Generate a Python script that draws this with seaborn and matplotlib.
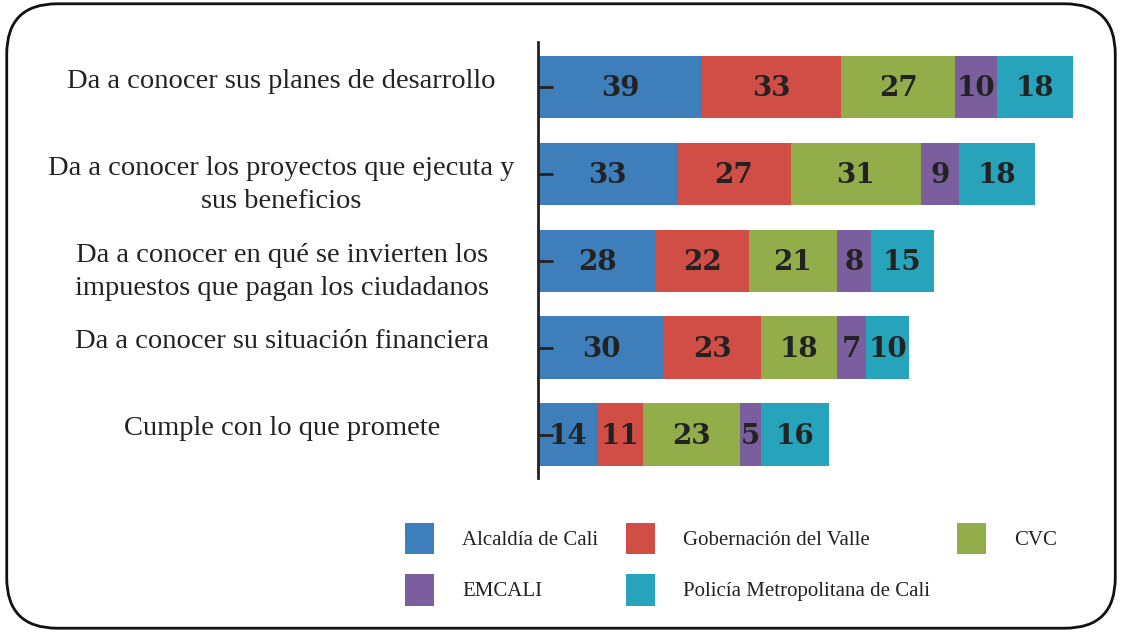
import matplotlib
matplotlib.use("Agg")
import matplotlib.pyplot as plt
import numpy as np
import pandas as pd
import seaborn as sns
from matplotlib.patches import FancyBboxPatch, Patch

categories = [
    "Da a conocer sus planes de desarrollo",
    "Da a conocer los proyectos que ejecuta y\nsus beneficios",
    "Da a conocer en qué se invierten los\nimpuestos que pagan los ciudadanos",
    "Da a conocer su situación financiera",
    "Cumple con lo que promete",
]
series_names = ["Alcaldía de Cali", "Gobernación del Valle", "CVC", "EMCALI",
                "Policía Metropolitana de Cali"]
alcaldia = [39, 33, 28, 30, 14]
gobernacion = [33, 27, 22, 23, 11]
cvc = [27, 31, 21, 18, 23]
emcali = [10, 9, 8, 7, 5]
policia = [18, 18, 15, 10, 16]
colors = ["#3d7ebb", "#d14e47", "#92ad4a", "#7b5e9e", "#27a4bc"]

sns.set_theme(style="white")
plt.rcParams["font.family"] = ["Liberation Serif", "DejaVu Serif"]

values = np.array([alcaldia, gobernacion, cvc, emcali, policia], dtype=float)
cum = values.cumsum(axis=0)
ypos = list(range(len(categories)))

fig = plt.figure(figsize=(11.22, 6.32), dpi=100)
ax = fig.add_axes([0.4795, 0.2437, 0.501, 0.69])

# stacked bars: draw cumulative totals from the outermost series inwards
for k in range(len(series_names) - 1, -1, -1):
    df = pd.DataFrame({"pos": ypos, "total": cum[k]})
    sns.barplot(data=df, x="total", y="pos", orient="h", color=colors[k],
                saturation=1, width=0.72, ax=ax, native_scale=True,
                linewidth=0, edgecolor="none")

for k in range(len(series_names)):
    for i in ypos:
        ax.text(cum[k][i] - values[k][i] / 2, i + 0.02, f"{int(values[k][i])}",
                ha="center", va="center", fontsize=20, fontweight="bold",
                family="DejaVu Serif", color="#222222")

ax.set_xlim(0, 133.5)
ax.set_ylim(4.5, -0.52)
ax.set_xlabel("")
ax.set_ylabel("")
ax.set_xticks([])
ax.set_yticks(ypos)
ax.set_yticklabels([])
ax.tick_params(axis="y", direction="in", length=11, width=2, color="#222222", left=True)
ax.yaxis.set_zorder(5)
for s in ["top", "right", "bottom"]:
    ax.spines[s].set_visible(False)
ax.spines["left"].set_linewidth(2)
ax.spines["left"].set_color("#222222")
ax.spines["left"].set_zorder(5)

for i, lab in enumerate(categories):
    ax.text(-0.456, i - 0.21, lab, transform=ax.get_yaxis_transform(),
            ha="center", va="top", fontsize=20.5, color="#222222",
            multialignment="center", linespacing=1.46)

order = [0, 3, 1, 4, 2]
handles = [Patch(facecolor=colors[k], edgecolor="none") for k in order]
labels = [series_names[k] for k in order]
fig.legend(handles, labels, loc="upper left", bbox_to_anchor=(0.348, 0.196),
           ncol=3, frameon=False, fontsize=15, handlelength=1.4, handleheight=1.95,
           handletextpad=1.35, columnspacing=1.3, labelspacing=0.95,
           labelcolor="#222222", borderpad=0.2)

border = FancyBboxPatch((0.006, 0.006), 0.988, 0.988, transform=fig.transFigure,
                        boxstyle="round,pad=0,rounding_size=0.045",
                        facecolor="none", edgecolor="#111111", linewidth=2,
                        mutation_aspect=1.775)
fig.patches.append(border)

fig.savefig("out.png", dpi=100)
